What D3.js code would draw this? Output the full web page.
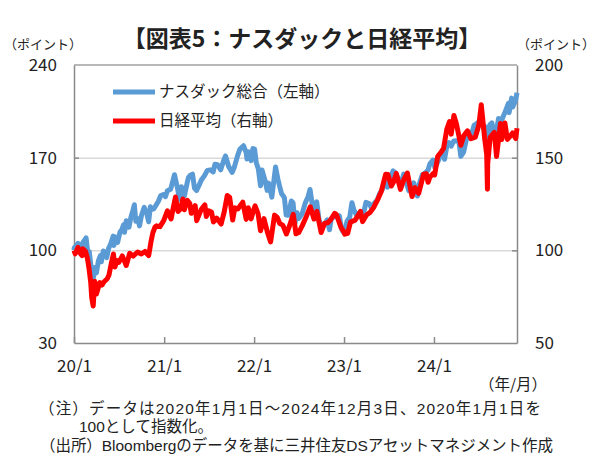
<!DOCTYPE html>
<html>
<head>
<meta charset="UTF-8">
<title>図表5 ナスダックと日経平均</title>
<script src="https://cdn.jsdelivr.net/npm/d3@7"></script>
<style>
    body { margin: 0; background: #fff; }
    svg text { font-family: "Noto Sans CJK JP", "Noto Sans", sans-serif; fill: #222; }
    svg text.note { font-family: "Liberation Sans", "Noto Sans CJK JP", sans-serif; }
</style>
</head>
<body>
<svg id="chart" width="600" height="473"></svg>
<script>
    // Nasdaq composite, 2020/1/1 = 100 (left axis)
    const nasdaq = [
        ["2020-01-01",100],["2020-01-02",101.8],["2020-01-10",103.6],["2020-01-17",105.2],["2020-01-24",104.0],["2020-01-31",102.2],
        ["2020-02-07",106.2],["2020-02-19",109.4],["2020-02-27",96.2],["2020-03-03",99.0],["2020-03-09",89.3],["2020-03-12",86.0],
        ["2020-03-16",78.5],["2020-03-20",79.5],["2020-03-26",87.0],["2020-04-01",83.0],["2020-04-09",92.0],["2020-04-17",96.0],
        ["2020-04-21",91.3],["2020-04-29",99.5],["2020-05-07",98.2],["2020-05-13",94.5],["2020-05-20",101.3],["2020-05-29",105.0],
        ["2020-06-08",110.7],["2020-06-11",103.7],["2020-06-19",110.0],["2020-06-26",106.0],["2020-07-06",114.0],["2020-07-13",115.5],
        ["2020-07-20",119.3],["2020-07-24",113.6],["2020-07-31",122.3],["2020-08-11",117.5],["2020-08-19",125.0],["2020-08-28",130.7],
        ["2020-09-02",134.4],["2020-09-08",121.9],["2020-09-16",124.0],["2020-09-23",118.5],["2020-10-01",126.5],["2020-10-12",132.4],
        ["2020-10-22",128.0],["2020-10-30",121.6],["2020-11-06",133.0],["2020-11-12",131.0],["2020-11-20",131.4],["2020-11-30",134.5],
        ["2020-12-09",137.3],["2020-12-18",141.4],["2020-12-31",142.2],["2021-01-06",140.5],["2021-01-14",145.0],["2021-01-27",146.1],
        ["2021-02-01",149.4],["2021-02-12",157.1],["2021-02-25",146.0],["2021-03-04",138.6],["2021-03-08",140.5],["2021-03-12",148.0],
        ["2021-03-24",141.0],["2021-03-31",147.2],["2021-04-09",154.8],["2021-04-16",156.6],["2021-04-26",157.6],["2021-05-04",147.0],
        ["2021-05-12",145.2],["2021-05-21",148.5],["2021-06-01",153.1],["2021-06-15",156.8],["2021-06-25",160.4],["2021-07-08",160.8],
        ["2021-07-19",159.2],["2021-07-26",165.0],["2021-08-06",164.6],["2021-08-18",160.8],["2021-08-31",168.1],["2021-09-07",171.3],
        ["2021-09-20",163.2],["2021-10-04",158.9],["2021-10-13",163.0],["2021-10-26",171.5],["2021-11-04",176.3],["2021-11-19",179.0],
        ["2021-11-30",173.7],["2021-12-03",169.0],["2021-12-10",174.4],["2021-12-20",167.8],["2021-12-27",176.9],["2022-01-03",176.4],
        ["2022-01-10",166.0],["2022-01-18",161.7],["2022-01-27",148.8],["2022-02-02",160.7],["2022-02-14",153.0],["2022-02-23",145.3],
        ["2022-03-01",150.8],["2022-03-14",140.2],["2022-03-29",162.9],["2022-04-08",153.5],["2022-04-14",148.8],["2022-04-22",143.0],
        ["2022-04-28",141.5],["2022-05-04",139.7],["2022-05-11",126.7],["2022-05-20",126.5],["2022-06-01",137.3],["2022-06-08",136.0],
        ["2022-06-16",120.5],["2022-06-24",128.4],["2022-07-01",124.0],["2022-07-15",127.6],["2022-07-28",136.0],["2022-08-08",140.5],
        ["2022-08-16",146.0],["2022-08-26",133.6],["2022-09-01",131.3],["2022-09-12",136.7],["2022-09-22",122.5],["2022-09-30",119.0],
        ["2022-10-13",119.5],["2022-10-25",123.0],["2022-11-03",115.5],["2022-11-10",123.9],["2022-11-30",126.4],["2022-12-05",125.0],
        ["2022-12-13",126.0],["2022-12-22",116.3],["2022-12-28",114.0],["2023-01-05",114.5],["2023-01-13",122.0],["2023-01-24",125.0],
        ["2023-02-02",136.0],["2023-02-10",130.5],["2023-02-21",126.5],["2023-03-02",128.0],["2023-03-13",124.7],["2023-03-22",128.7],
        ["2023-03-31",136.2],["2023-04-14",135.1],["2023-04-25",131.0],["2023-05-05",136.0],["2023-05-15",137.8],["2023-05-26",143.0],
        ["2023-06-05",145.8],["2023-06-15",153.6],["2023-06-26",147.7],["2023-07-06",154.0],["2023-07-19",160.0],["2023-07-28",158.7],
        ["2023-08-08",154.5],["2023-08-18",148.1],["2023-08-31",157.6],["2023-09-08",152.8],["2023-09-21",145.0],["2023-09-29",147.0],
        ["2023-10-11",151.0],["2023-10-26",141.0],["2023-11-03",150.4],["2023-11-15",157.2],["2023-11-28",158.7],["2023-12-08",160.7],
        ["2023-12-15",165.1],["2023-12-28",168.2],["2024-01-05",162.2],["2024-01-16",166.6],["2024-01-29",172.5],["2024-02-05",174.2],
        ["2024-02-13",168.8],["2024-02-22",178.3],["2024-03-01",181.4],["2024-03-11",178.7],["2024-03-21",182.6],["2024-04-01",182.7],
        ["2024-04-11",182.5],["2024-04-19",171.0],["2024-04-30",174.0],["2024-05-15",186.6],["2024-05-31",186.5],["2024-06-12",194.5],
        ["2024-06-20",195.4],["2024-07-01",197.0],["2024-07-10",200.5],["2024-07-24",190.0],["2024-08-01",193.0],["2024-08-07",181.0],
        ["2024-08-15",195.0],["2024-08-23",196.3],["2024-09-06",184.0],["2024-09-19",199.6],["2024-10-01",198.0],["2024-10-15",204.1],
        ["2024-10-29",211.0],["2024-11-01",204.0],["2024-11-11",215.0],["2024-11-15",208.2],["2024-11-27",213.0],["2024-12-03",219.0]
    ];

    // Nikkei 225, 2020/1/1 = 100 (right axis)
    const nikkei = [
        ["2020-01-01",100],["2020-01-06",98.1],["2020-01-17",101.6],["2020-01-27",98.2],["2020-02-03",97.1],["2020-02-06",100.8],
        ["2020-02-17",99.4],["2020-02-25",95.3],["2020-03-02",90.2],["2020-03-09",82.5],["2020-03-13",74.4],["2020-03-19",70.0],
        ["2020-03-25",83.3],["2020-04-01",76.4],["2020-04-08",79.5],["2020-04-15",82.6],["2020-04-24",81.3],["2020-05-01",82.9],
        ["2020-05-15",84.7],["2020-05-22",86.7],["2020-06-01",93.3],["2020-06-09",98.0],["2020-06-15",91.0],["2020-06-24",94.5],
        ["2020-07-01",93.5],["2020-07-15",97.0],["2020-07-31",91.8],["2020-08-14",98.4],["2020-08-28",96.9],["2020-09-15",99.1],
        ["2020-09-30",98.0],["2020-10-15",99.4],["2020-10-30",97.1],["2020-11-09",105.0],["2020-11-16",109.5],["2020-11-25",112.6],
        ["2020-12-01",113.2],["2020-12-15",112.8],["2020-12-30",116.0],["2021-01-14",121.3],["2021-01-29",116.9],["2021-02-05",121.8],
        ["2021-02-16",128.8],["2021-02-26",121.0],["2021-03-09",122.5],["2021-03-18",127.7],["2021-03-24",121.9],["2021-04-05",127.0],
        ["2021-04-15",125.3],["2021-04-21",120.0],["2021-05-07",124.1],["2021-05-13",116.0],["2021-05-31",122.0],["2021-06-15",124.5],
        ["2021-06-21",118.3],["2021-07-01",121.3],["2021-07-12",120.7],["2021-07-20",115.3],["2021-08-02",117.4],["2021-08-20",114.2],
        ["2021-09-01",120.3],["2021-09-14",129.6],["2021-09-24",128.5],["2021-10-06",116.4],["2021-10-15",122.9],["2021-10-27",122.3],
        ["2021-11-16",126.0],["2021-11-30",116.7],["2021-12-08",123.0],["2021-12-20",117.0],["2021-12-30",121.7],["2022-01-05",124.0],
        ["2022-01-17",119.8],["2022-01-27",110.6],["2022-02-10",117.1],["2022-02-24",109.8],["2022-03-09",104.5],["2022-03-25",119.0],
        ["2022-04-05",117.8],["2022-04-15",114.5],["2022-04-28",113.5],["2022-05-12",108.8],["2022-05-24",113.0],["2022-06-09",119.4],
        ["2022-06-20",108.9],["2022-07-01",109.6],["2022-07-15",113.2],["2022-08-01",118.3],["2022-08-17",123.5],["2022-09-01",116.9],
        ["2022-09-13",121.0],["2022-09-30",109.6],["2022-10-14",114.5],["2022-10-28",115.0],["2022-11-08",116.5],["2022-11-24",120.0],
        ["2022-12-01",119.3],["2022-12-20",112.3],["2022-12-30",110.3],["2023-01-04",108.7],["2023-01-16",109.2],["2023-01-27",115.2],
        ["2023-02-15",116.3],["2023-03-09",121.0],["2023-03-17",115.5],["2023-04-03",119.2],["2023-04-17",120.5],["2023-05-01",123.1],
        ["2023-05-17",127.2],["2023-06-01",131.7],["2023-06-19",141.1],["2023-06-28",140.9],["2023-07-12",134.7],["2023-07-21",136.9],
        ["2023-08-01",141.5],["2023-08-18",132.9],["2023-09-01",138.3],["2023-09-15",141.7],["2023-10-04",129.0],["2023-10-16",133.8],
        ["2023-10-31",130.8],["2023-11-20",141.1],["2023-12-01",141.3],["2023-12-08",136.7],["2023-12-15",139.4],["2023-12-29",141.5],
        ["2024-01-04",140.7],["2024-01-16",150.6],["2024-01-31",153.2],["2024-02-09",155.0],["2024-02-22",165.3],["2024-03-04",169.5],
        ["2024-03-11",162.7],["2024-03-22",172.8],["2024-04-01",168.3],["2024-04-19",156.7],["2024-05-01",161.8],["2024-05-16",164.5],
        ["2024-05-30",160.2],["2024-06-17",161.1],["2024-07-01",167.5],["2024-07-11",178.5],["2024-07-25",160.1],["2024-08-02",151.8],
        ["2024-08-05",133.0],["2024-08-06",146.6],["2024-08-16",160.9],["2024-09-02",163.6],["2024-09-11",150.6],["2024-09-27",168.4],
        ["2024-10-02",159.8],["2024-10-15",168.7],["2024-10-25",159.8],["2024-11-01",160.9],["2024-11-15",163.3],["2024-11-28",160.3],
        ["2024-12-03",165.9]
    ];

    const leftTicks = [30, 100, 170, 240];
    const rightTicks = [50, 100, 150, 200];
    const xTicks = ["2020-01-01", "2021-01-01", "2022-01-01", "2023-01-01", "2024-01-01"];
    const seriesNames = ["ナスダック総合（左軸）", "日経平均（右軸）"];
    const seriesColors = ["#5b9bd5", "#ff0000"];

    const parse = d3.utcParse("%Y-%m-%d");

    const svg = d3.select("#chart");
    const plotL = 74, plotR = 517, plotT = 65, plotB = 343;

    const x = d3.scaleUtc()
        .domain([parse("2020-01-01"), parse("2024-12-03")])
        .range([plotL, plotR]);
    const yL = d3.scaleLinear().domain([30, 240]).range([plotB, plotT]);
    const yR = d3.scaleLinear().domain([50, 200]).range([plotB, plotT]);

    // gridlines
    svg.append("g")
        .attr("transform", `translate(${plotL},0)`)
        .call(d3.axisLeft(yL).tickValues([100, 170]).tickSize(-(plotR - plotL)).tickFormat(""))
        .call(g => g.select(".domain").remove())
        .call(g => g.selectAll("line").attr("stroke", "#d9d9d9").attr("stroke-width", 1.5));

    // frame top
    svg.append("line")
        .attr("x1", plotL).attr("x2", plotR).attr("y1", plotT).attr("y2", plotT)
        .attr("stroke", "#a0a0a0").attr("stroke-width", 1.5);

    const axisStyle = g => {
        g.select(".domain").attr("stroke", "#8a8a8a").attr("stroke-width", 1.5);
        g.selectAll(".tick line").attr("stroke", "#8a8a8a").attr("stroke-width", 1.5);
        g.selectAll("text").attr("font-size", 17).attr("fill", "#222")
            .attr("font-family", "'Noto Sans CJK JP', sans-serif");
    };

    svg.append("g")
        .attr("transform", `translate(${plotL},0)`)
        .call(d3.axisLeft(yL).tickValues(leftTicks).tickSize(-5).tickSizeOuter(0).tickPadding(17))
        .call(axisStyle)
        .call(g => g.selectAll(".tick line").filter(d => d === 30 || d === 240).remove());

    svg.append("g")
        .attr("transform", `translate(${plotR},0)`)
        .call(d3.axisRight(yR).tickValues(rightTicks).tickSize(-5).tickSizeOuter(0).tickPadding(18))
        .call(axisStyle)
        .call(g => g.selectAll(".tick line").filter(d => d === 50 || d === 200).remove());

    svg.append("g")
        .attr("transform", `translate(0,${plotB})`)
        .call(d3.axisBottom(x).tickValues(xTicks.map(parse)).tickSize(-6).tickSizeOuter(0).tickPadding(17)
            .tickFormat(d3.utcFormat("%y/%-m")))
        .call(axisStyle);

    // lines
    const lineL = d3.line().x(d => x(parse(d[0]))).y(d => yL(d[1]));
    const lineR = d3.line().x(d => x(parse(d[0]))).y(d => yR(d[1]));

    svg.append("path").datum(nasdaq)
        .attr("d", lineL).attr("fill", "none")
        .attr("stroke", seriesColors[0]).attr("stroke-width", 5)
        .attr("stroke-linejoin", "round");
    svg.append("path").datum(nikkei)
        .attr("d", lineR).attr("fill", "none")
        .attr("stroke", seriesColors[1]).attr("stroke-width", 5)
        .attr("stroke-linejoin", "round");

    // legend
    const legend = svg.append("g");
    seriesNames.forEach((name, i) => {
        const ly = 92 + i * 29;
        legend.append("line")
            .attr("x1", 113).attr("x2", 155).attr("y1", ly).attr("y2", ly)
            .attr("stroke", seriesColors[i]).attr("stroke-width", 5);
        legend.append("text")
            .attr("x", 159).attr("y", ly).attr("dy", "0.35em")
            .attr("font-size", 15.5).text(name);
    });

    // titles and notes
    svg.append("text")
        .attr("x", 302).attr("y", 39).attr("dy", "0.35em")
        .attr("text-anchor", "middle").attr("font-size", 23).attr("font-weight", "bold")
        .text("【図表5：ナスダックと日経平均】");

    svg.append("text").attr("x", 43).attr("y", 44).attr("dy", "0.35em")
        .attr("text-anchor", "middle").attr("font-size", 13).text("（ポイント）");
    svg.append("text").attr("x", 556).attr("y", 44).attr("dy", "0.35em")
        .attr("text-anchor", "middle").attr("font-size", 13).text("（ポイント）");
    svg.append("text").attr("x", 513).attr("y", 385).attr("dy", "0.35em")
        .attr("text-anchor", "middle").attr("font-size", 15.5).text("（年/月）");

    // note (wrapped over two lines) and source
    const notes = [
        [39, 409, "（注）データは2020年1月1日～2024年12月3日、2020年1月1日を", 502],
        [79, 427, "100として指数化。", null],
        [40, 446, "（出所）Bloombergのデータを基に三井住友DSアセットマネジメント作成", 513]
    ];
    notes.forEach(n => {
        const t = svg.append("text").attr("class", "note")
            .attr("x", n[0]).attr("y", n[1]).attr("dy", "0.35em")
            .attr("font-size", 15.5).text(n[2]);
        if (n[3]) t.attr("textLength", n[3]).attr("lengthAdjust", "spacing");
    });
</script>
</body>
</html>
